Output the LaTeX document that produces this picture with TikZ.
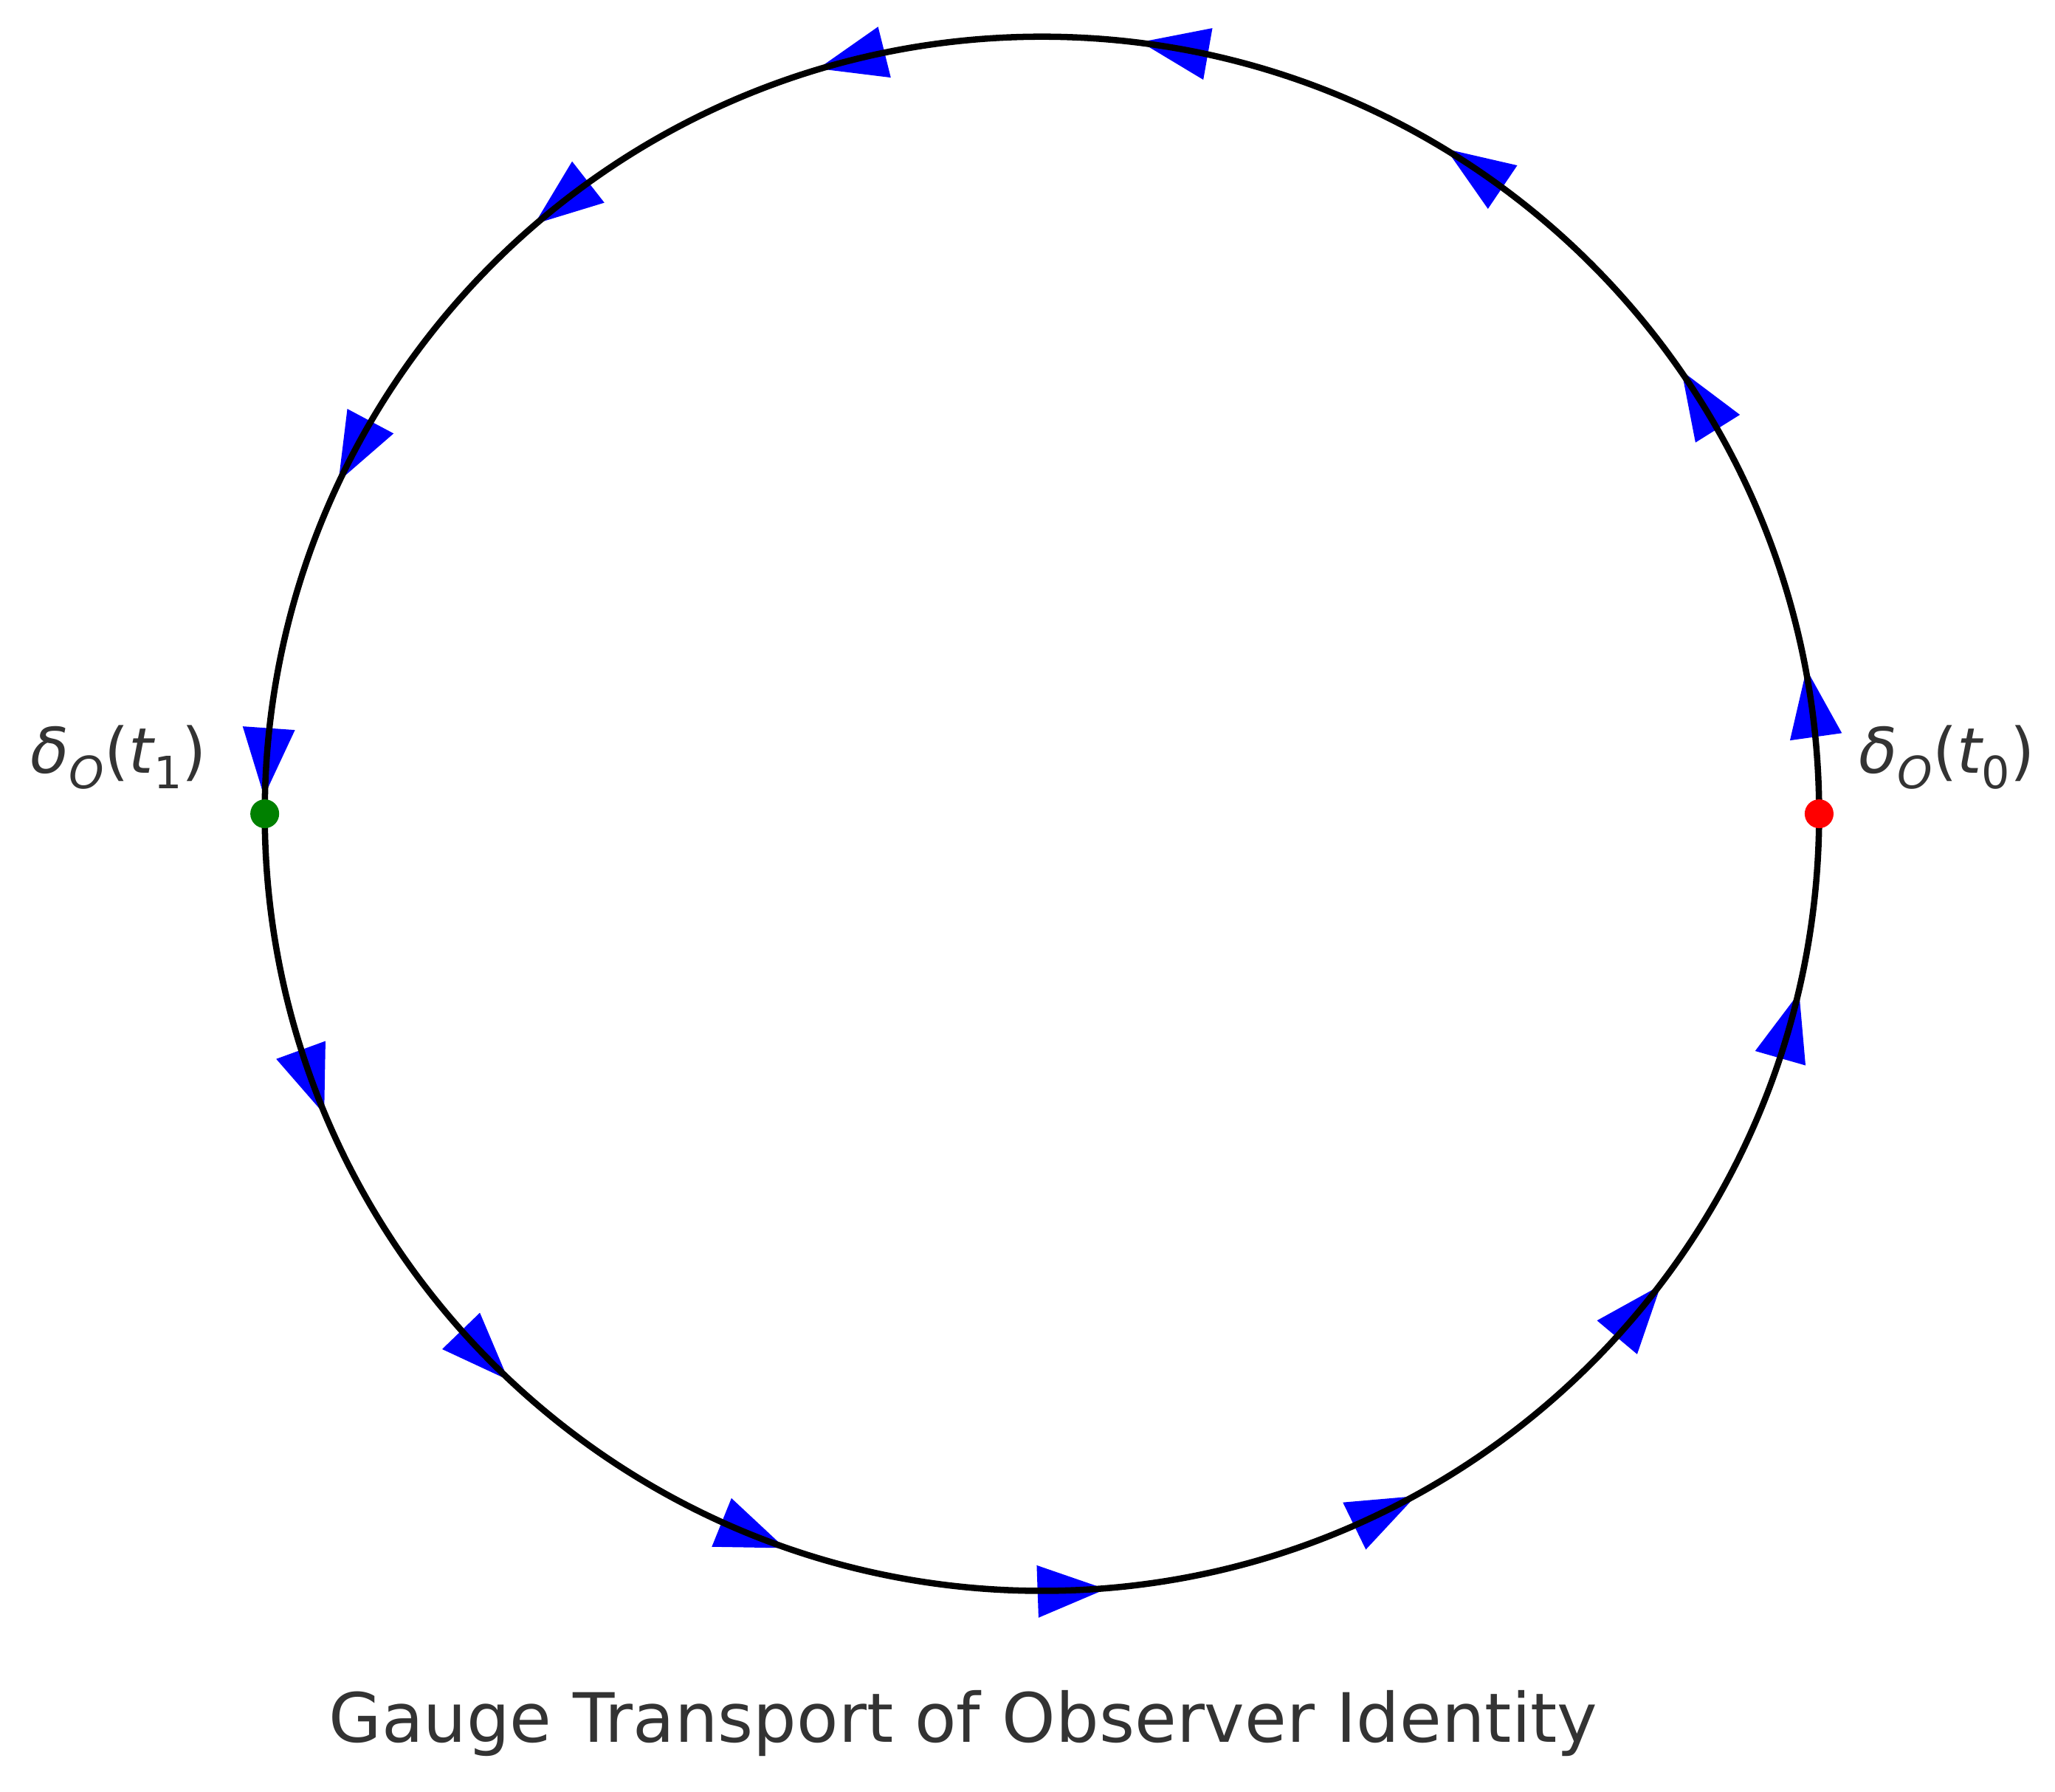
\documentclass[tikz,border=0pt]{standalone}
\usepackage{fontspec}
\setmainfont{DejaVu Sans}
\definecolor{txt}{HTML}{333333}
\begin{document}
\begin{tikzpicture}[x=0.5pt,y=0.5pt,
  lbl/.style={text=txt,font=\fontsize{24}{28}\selectfont,inner sep=0pt},
  arrowhead/.style={fill=blue,draw=none}]
\useasboundingbox (0,0) rectangle (1568,1367);
\coordinate (c) at (795,746);
\foreach \a in {8,32,...,344}{
  \pgfmathsetmacro{\px}{795+593*cos(\a)}
  \pgfmathsetmacro{\py}{746+593*sin(\a)}
  \begin{scope}[shift={(\px,\py)},rotate=\a+90]
    \fill[arrowhead] (28,0) -- (-24,20) -- (-24,-20) -- cycle;
  \end{scope}
}
\draw[line width=2.4pt] (c) circle[radius=593];
\fill[red] (1388,746) circle[radius=11] coordinate (p0);
\fill[green!50!black] (202,746) circle[radius=11] coordinate (p1);
\node[lbl,anchor=west] (l0) at (1418,789) {\itshape δ\raisebox{-0.45ex}{\fontsize{17}{17}\selectfont O}\upshape(\itshape t\raisebox{-0.45ex}{\upshape\fontsize{17}{17}\selectfont 0}\upshape)};
\node[lbl,anchor=east] (l1) at (158,789) {\itshape δ\raisebox{-0.45ex}{\fontsize{17}{17}\selectfont O}\upshape(\itshape t\raisebox{-0.45ex}{\upshape\fontsize{17}{17}\selectfont 1}\upshape)};
\node[lbl,font=\fontsize{26}{30}\selectfont] (title) at (735,52) {Gauge Transport of Observer Identity};
\end{tikzpicture}
\end{document}
